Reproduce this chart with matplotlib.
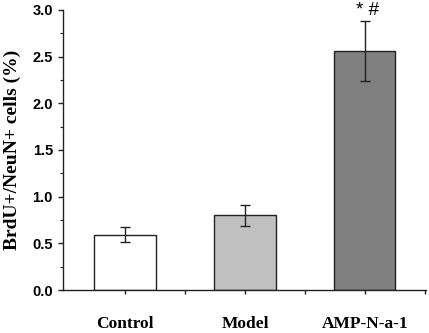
import matplotlib.pyplot as plt
from matplotlib.ticker import MultipleLocator, FixedLocator
import numpy as np

# data
groups = ["Control", "Model", "AMP-N-a-1"]
means = [0.59, 0.80, 2.56]
errors = [0.08, 0.11, 0.32]
colors = ["#ffffff", "#c0c0c0", "#808080"]

fig = plt.figure(figsize=(4.29, 3.33), dpi=100)
ax = fig.add_axes([0.1476, 0.1291, 0.993 - 0.1476, 0.970 - 0.1291])

x = np.arange(len(groups))
ax.bar(x, means, width=0.51, color=colors, edgecolor="#222222", linewidth=1.0, zorder=2)
ax.errorbar(x, means, yerr=errors, fmt="none", ecolor="#222222",
            elinewidth=1.0, capsize=3.5, capthick=1.0, zorder=3)

# significance marks above the treated group
ax.text(x[2] + 0.02, means[2] + errors[2] + 0.11, "* #", ha="center", va="center",
        fontsize=13.5, family="Liberation Sans")

ax.set_xlim(-0.515, 2.51)
ax.set_ylim(0, 3.0)
ax.spines["top"].set_visible(False)
ax.spines["right"].set_visible(False)
for s in ["left", "bottom"]:
    ax.spines[s].set_linewidth(1.0)
    ax.spines[s].set_color("#222222")

ax.set_xticks(x)
ax.set_xticklabels(groups, family="Liberation Serif", fontweight="bold", fontsize=12.5)
ax.xaxis.set_minor_locator(FixedLocator([0.5, 1.5, 2.5]))
ax.tick_params(axis="x", which="major", length=3, width=1, pad=16, color="#222222")
ax.tick_params(axis="x", which="minor", length=3, width=1, color="#222222")

ax.yaxis.set_major_locator(MultipleLocator(0.5))
ax.yaxis.set_minor_locator(MultipleLocator(0.25))
ax.set_yticks(np.arange(0, 3.01, 0.5))
ax.set_yticklabels([f"{v:.1f}" for v in np.arange(0, 3.01, 0.5)],
                   family="Liberation Sans", fontweight="bold", fontsize=10.5)
ax.tick_params(axis="y", which="major", length=3.5, width=1, pad=4, color="#222222")
ax.tick_params(axis="y", which="minor", length=2, width=0.8, color="#222222")

ax.set_ylabel("BrdU+/NeuN+ cells (%)", family="Liberation Serif", fontweight="bold",
              fontsize=14, labelpad=8)

fig.savefig("out.png", dpi=100)
